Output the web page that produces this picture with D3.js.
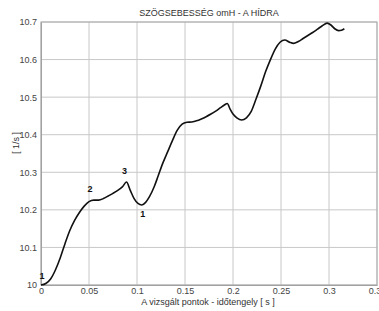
<!DOCTYPE html>
<html><head><meta charset="utf-8">
<script src="https://cdn.jsdelivr.net/npm/d3@7"></script>
<style>body{margin:0;background:#fff}svg{display:block}text{font-family:"Liberation Sans",Arial,sans-serif}</style>
</head><body><svg width="379" height="311"></svg>
<script>
const titleText = "SZÖGSEBESSÉG omH - A HÍDRA";
const xLabel = "A vizsgált pontok - időtengely  [ s ]";
const yLabel = "[ 1/s ]";
const xTicks = [0,0.05,0.1,0.15,0.2,0.25,0.3,0.35];
const xTickLabels = ["0","0.05","0.1","0.15","0.2","0.25","0.3","0.35"];
const yTicks = [10,10.1,10.2,10.3,10.4,10.5,10.6,10.7];
const yTickLabels = ["10","10.1","10.2","10.3","10.4","10.5","10.6","10.7"];
const times = [0,0.005,0.01,0.015,0.02,0.025,0.03,0.035,0.04,0.045,0.05,0.055,0.06,0.065,0.07,0.075,0.08,0.085,0.089,0.093,0.097,0.101,0.105,0.109,0.113,0.118,0.122,0.127,0.132,0.137,0.142,0.147,0.152,0.157,0.162,0.167,0.172,0.177,0.182,0.187,0.191,0.194,0.197,0.2,0.204,0.209,0.214,0.219,0.224,0.229,0.234,0.239,0.244,0.249,0.254,0.259,0.263,0.268,0.273,0.278,0.283,0.288,0.293,0.298,0.302,0.306,0.31,0.313,0.316];
const speeds = [10.000,10.004,10.016,10.040,10.072,10.110,10.145,10.172,10.193,10.210,10.222,10.226,10.226,10.230,10.237,10.244,10.252,10.262,10.274,10.252,10.230,10.217,10.213,10.220,10.235,10.262,10.290,10.325,10.355,10.385,10.412,10.428,10.433,10.434,10.437,10.442,10.448,10.455,10.463,10.472,10.479,10.483,10.468,10.455,10.445,10.439,10.445,10.462,10.495,10.530,10.568,10.600,10.628,10.646,10.652,10.646,10.643,10.648,10.656,10.664,10.672,10.681,10.690,10.697,10.692,10.682,10.677,10.678,10.682];
const markTimes = [0,0.051,0.089,0.105];
const markValues = [10.000,10.226,10.274,10.213];
const markTexts = ["1","2","3","1"];

const svg = d3.select("svg");
const x = d3.scaleLinear().domain([0,0.35]).range([41,377]);
const y = d3.scaleLinear().domain([10,10.7]).range([285,22]);

// grid
svg.append("g").selectAll("line").data(xTicks).join("line")
  .attr("x1",d=>x(d)).attr("x2",d=>x(d)).attr("y1",y(10)).attr("y2",y(10.7))
  .attr("stroke","#c8c8c8").attr("stroke-width",1);
svg.append("g").selectAll("line").data(yTicks).join("line")
  .attr("x1",x(0)).attr("x2",x(0.35)).attr("y1",d=>y(d)).attr("y2",d=>y(d))
  .attr("stroke","#c8c8c8").attr("stroke-width",1);

// axes
const xa = svg.append("g").attr("transform",`translate(0,${y(10)})`)
  .call(d3.axisBottom(x).tickValues(xTicks).tickFormat((d,i)=>xTickLabels[i]).tickSize(0).tickPadding(3));
const ya = svg.append("g").attr("transform",`translate(${x(0)},0)`)
  .call(d3.axisLeft(y).tickValues(yTicks).tickFormat((d,i)=>yTickLabels[i]).tickSize(0).tickPadding(4));
[xa,ya].forEach(a=>{a.select(".domain").attr("stroke","#999");a.selectAll("text").attr("font-size",9).attr("fill","#444").attr("font-family","Liberation Sans, Arial, sans-serif");});
svg.append("rect").attr("x",x(0)).attr("y",y(10.7)).attr("width",x(0.35)-x(0)).attr("height",y(10)-y(10.7))
  .attr("fill","none").attr("stroke","#aaa");

// line
const line = d3.line().x((d,i)=>x(times[i])).y(d=>y(d)).curve(d3.curveMonotoneX);
svg.append("path").datum(speeds).attr("d",line).attr("fill","none").attr("stroke","#111").attr("stroke-width",1.6);

// point labels
const offs = [[1,-6],[0,-8],[-2,-8],[1,12]];
svg.append("g").selectAll("text").data(markTexts).join("text")
  .attr("x",(d,i)=>x(markTimes[i])+offs[i][0]).attr("y",(d,i)=>y(markValues[i])+offs[i][1])
  .attr("text-anchor","middle").attr("font-size",9).attr("font-weight","bold").attr("fill","#111").text(d=>d);

// titles
svg.append("text").attr("x",209).attr("y",16).attr("text-anchor","middle").attr("font-size",9).attr("fill","#333").text(titleText);
svg.append("text").attr("x",208).attr("y",305).attr("text-anchor","middle").attr("font-size",9).attr("fill","#333").text(xLabel);
svg.append("text").attr("transform","translate(19,143) rotate(-90)").attr("text-anchor","middle").attr("font-size",9).attr("fill","#333").text(yLabel);
</script></body></html>
